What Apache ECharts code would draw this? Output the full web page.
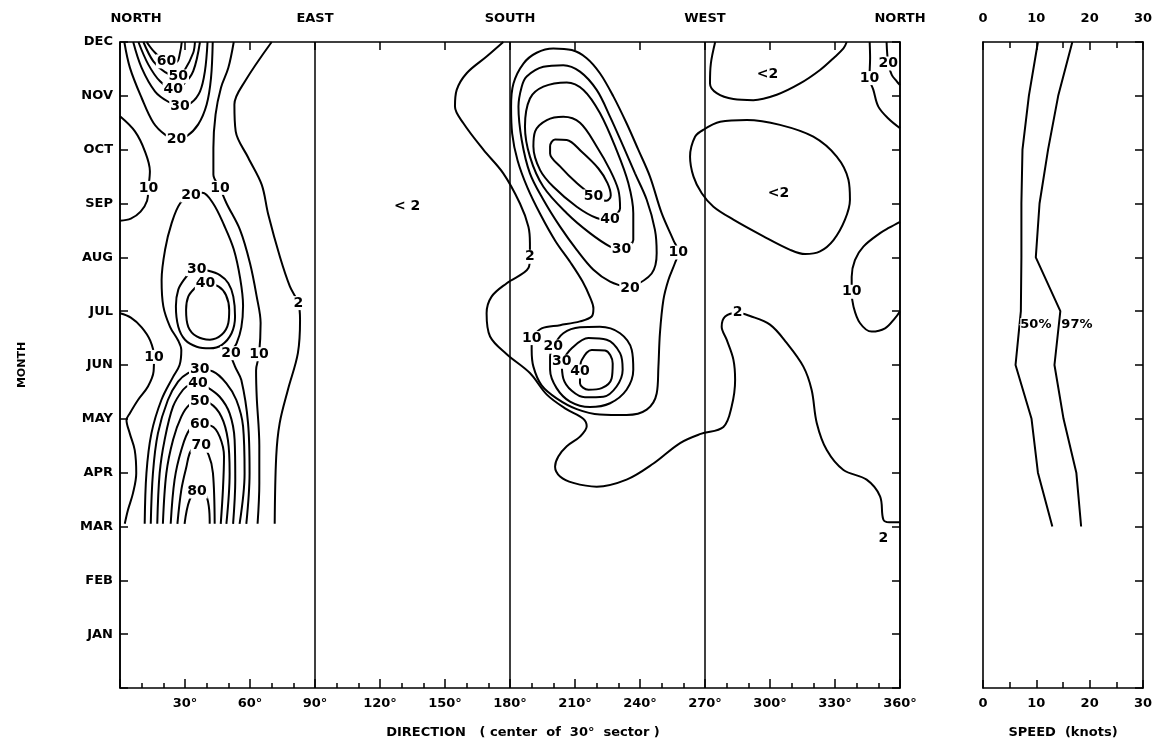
<!DOCTYPE html>
<html><head><meta charset="utf-8">
<script src="https://cdn.jsdelivr.net/npm/echarts@6/dist/echarts.min.js"></script>
<style>html,body{margin:0;padding:0;background:#fff}#c{width:1163px;height:745px}</style>
</head><body><div id="c"></div>
<script>
// ---------- tick labels ----------
const monthNames = ['JAN','FEB','MAR','APR','MAY','JUN','JUL','AUG','SEP','OCT','NOV','DEC'];
const dirValues = [0, 90, 180, 270, 360];
const dirNames = ['NORTH', 'EAST', 'SOUTH', 'WEST', 'NORTH'];
const directionTitle = 'DIRECTION   ( center  of  30°  sector )';
const speedTitle = 'SPEED  (knots)';
const monthTitle = 'MONTH';

// ---------- contour lines: [direction deg, month (1=JAN..12=DEC)] ----------
const c_top60 = [[12.3,12],[16.2,11.8],[21.5,11.64],[26.1,11.63],[27.7,11.8],[28.5,12]];
const c_top50 = [[10.8,12],[15.4,11.64],[20.8,11.44],[26.9,11.36],[30,11.49],[33.8,11.8],[34.6,12]];
const c_top40 = [[8.5,12],[13.1,11.58],[18.5,11.27],[24.6,11.12],[29.2,11.21],[33.8,11.46],[36.9,12]];
const c_top30 = [[6.1,12],[10,11.52],[16.2,11.08],[22.3,10.89],[27.7,10.81],[32.8,10.87],[36.9,11.08],[39.2,11.46],[40.4,12]];
const c_top20 = [[2,12],[4.6,11.52],[10,10.96],[15.4,10.5],[20.8,10.28],[26.1,10.19],[30.8,10.25],[36.1,10.47],[40,10.84],[42,11.33],[42.8,12]];
const c_nw10 = [[0,10.62],[6.9,10.34],[11.5,9.97],[13.8,9.6],[13.1,9.29],[12.5,9.05],[9.5,8.85],[5,8.72],[0,8.68]];
const c_ne10 = [[52.5,12],[50,11.52],[46.6,11.15],[44.1,10.65],[43.1,10.03],[43.1,9.54],[46.1,9.29],[49.2,9.0],[55.4,8.51],[60,7.89],[63.1,7.27],[64.9,6.78],[64.2,6.2],[62.8,5.9],[63.1,5.41],[64.3,4.5],[64.3,3.8],[63.5,3.05]];
const c_ne2 = [[70,12],[57.7,11.27],[52.8,10.84],[53.4,10.34],[59.2,9.85],[65.4,9.35],[68.4,8.8],[73.8,8.01],[78.4,7.46],[82.3,7.15],[83.1,6.84],[82.1,6.22],[77.5,5.54],[73.7,4.92],[72.1,4.3],[71.4,3.05]];
const c_sw10 = [[0,6.96],[5,6.88],[10,6.7],[14,6.45],[15.7,6.15],[15.5,5.88],[12.9,5.6],[8.3,5.35],[4.5,5.1],[3,4.98],[4.5,4.73],[6.8,4.42],[7.5,3.99],[6,3.62],[3.7,3.31],[2.2,3.05]];
const c_mid20 = [[11.4,3.05],[12.2,3.99],[14.5,4.73],[19.1,5.35],[24.5,5.78],[27.5,6.0],[28.3,6.28],[26.9,6.45],[23.1,6.71],[20,7.09],[19.2,7.58],[20.8,8.14],[23.8,8.63],[27.7,9.0],[32.8,9.15],[38,9.2],[43,9.0],[48,8.6],[52.5,8.15],[55.5,7.6],[56.8,7.1],[56,6.7],[53.8,6.4],[51.2,6.22],[53,5.98],[56,5.72],[59.1,4.92],[59.8,3.99],[58.3,3.05]];
const c_ell30 = [[35.4,7.78],[40.8,7.75],[46.1,7.67],[50,7.52],[52.3,7.27],[53.1,6.9],[51.5,6.59],[46.9,6.37],[41.5,6.31],[35.4,6.34],[30,6.47],[26.9,6.71],[25.8,7.09],[26.9,7.4],[30,7.61],[32.3,7.71],[35.4,7.78]];
const c_ell40 = [[40,7.52],[45.4,7.46],[48.9,7.3],[50.4,7.02],[50,6.78],[46.9,6.56],[41.5,6.47],[35.4,6.53],[31.5,6.71],[30.5,7.02],[31.5,7.27],[34.6,7.43],[36.9,7.49],[40,7.52]];
const c_low80 = [[29.8,3.05],[32.1,3.49],[35.5,3.65],[39.4,3.59],[41,3.37],[41.4,3.05]];
const c_low70 = [[26.5,3.05],[28.3,3.68],[30.6,4.1],[32.9,4.42],[37.5,4.5],[40.9,4.33],[42.9,3.99],[43.7,3.05]];
const c_low60 = [[23.4,3.05],[25.2,3.87],[28.3,4.42],[32.1,4.8],[36.8,4.89],[42.1,4.87],[46,4.67],[48,4.3],[47.5,3.68],[46.5,3.05]];
const c_low50 = [[19.8,3.05],[21.4,3.99],[24.5,4.61],[28.3,5.04],[32.1,5.26],[36.8,5.32],[41.4,5.29],[46.8,5.04],[49.8,4.61],[50.6,3.99],[49.1,3.05]];
const c_low40 = [[17.2,3.05],[18.3,3.99],[20.6,4.61],[24.5,5.23],[29.1,5.54],[32.1,5.63],[36,5.66],[39.8,5.6],[46,5.41],[50.6,5.1],[52.9,4.61],[53.2,3.87],[52.2,3.05]];
const c_low30 = [[14.2,3.05],[15.2,3.99],[17.5,4.73],[22.1,5.35],[26.8,5.69],[31.4,5.85],[36.8,5.91],[42.9,5.88],[49.1,5.66],[53.7,5.35],[56.8,4.86],[57.5,3.99],[55.2,3.05]];
const c_s2 = [[176.9,12],[169.2,11.73],[160,11.42],[155.4,11.11],[154.6,10.8],[158.5,10.49],[167.7,10.0],[176.9,9.56],[184.6,9.0],[188.5,8.57],[189.2,8.26],[189.2,8.01],[188.5,7.8],[178.5,7.52],[171.5,7.27],[169.2,6.96],[170.8,6.53],[178.5,6.2],[189.2,5.85],[197,5.45],[206,5.18],[213.8,5.0],[215.4,4.86],[212.3,4.67],[206.2,4.49],[202.3,4.3],[200.8,4.11],[203.1,3.93],[209.2,3.81],[220,3.74],[233.8,3.87],[246.2,4.17],[258.5,4.55],[268,4.72],[278.5,4.85],[282.3,5.23],[283.9,5.72],[283.1,6.1],[280,6.47],[277.7,6.71],[279.3,6.9],[285,6.97],[290.8,6.91],[300,6.75],[307.7,6.41],[315.4,5.97],[319.2,5.54],[321.6,4.92],[326.2,4.42],[333.9,4.05],[344.6,3.87],[350.8,3.56],[352.3,3.13],[355,3.08],[360,3.08]];
const c_s10 = [[190,6.5],[190,6.28],[190.8,5.97],[194.6,5.62],[201.5,5.38],[210.8,5.18],[221.5,5.08],[233.8,5.07],[243.1,5.17],[247.7,5.47],[248.5,5.97],[249.2,6.59],[250.8,7.21],[253.1,7.58],[256.1,7.89],[257.7,8.09],[255.4,8.32],[250,8.82],[244.6,9.5],[239.2,10.0],[233.8,10.49],[227.7,10.99],[221.5,11.42],[215.4,11.7],[208.5,11.85],[200,11.88],[192.3,11.8],[186.2,11.6],[181.6,11.23],[180.5,10.8],[181,10.3],[183.5,9.8],[188,9.3],[194,8.8],[201,8.3],[208,7.9],[213.5,7.55],[217,7.25],[218.5,7.05],[217.7,6.9],[212.3,6.81],[203.1,6.74],[194.6,6.68],[190,6.5]];
const c_s20 = [[235.4,7.43],[245.4,7.7],[247.7,8.08],[246.9,8.51],[243.1,9.07],[237.7,9.56],[232.3,10.06],[226.2,10.61],[220,11.11],[212.3,11.45],[204.6,11.57],[195.4,11.54],[187.7,11.36],[185.4,11.17],[183.9,10.8],[185.4,10.18],[189.2,9.56],[195.4,9.07],[203.1,8.57],[210.8,8.14],[218.5,7.77],[226.2,7.55],[235.4,7.43]];
const c_s30 = [[231.5,8.14],[236.9,8.32],[236.9,8.82],[234.6,9.38],[229.2,9.99],[221.5,10.68],[213.9,11.11],[206.2,11.25],[195.4,11.17],[189.2,10.95],[186.9,10.43],[189.2,9.87],[195.4,9.31],[206.2,8.82],[216.9,8.45],[226.2,8.2],[231.5,8.14]];
const c_s40 = [[226.2,8.7],[230.8,8.91],[230,9.25],[226.2,9.62],[220,10.06],[212.3,10.5],[204.6,10.61],[197,10.55],[191.6,10.34],[190.8,10.06],[193.9,9.62],[200,9.31],[210.8,8.94],[220,8.73],[226.2,8.7]];
const c_s50 = [[218.5,9.13],[224.5,9.05],[226.5,9.15],[225,9.38],[220.8,9.65],[213.1,9.96],[206.2,10.18],[200.8,10.19],[198.5,10.06],[198.5,9.93],[203.1,9.69],[210.8,9.38],[218.5,9.13]];
const c_sb20 = [[200,6.34],[204.6,6.59],[212.3,6.7],[221.5,6.71],[230.8,6.59],[236.2,6.28],[236.9,5.91],[233.8,5.54],[226.2,5.29],[216.9,5.22],[207.7,5.32],[201.5,5.57],[198.5,5.91],[198.5,6.16],[200,6.34]];
const c_sb30 = [[203.9,6.06],[208.5,6.31],[216.2,6.5],[224.6,6.47],[230.8,6.22],[232,5.91],[229.2,5.6],[223.1,5.41],[214.6,5.4],[208.5,5.52],[204.6,5.75],[203.9,6.06]];
const c_sb40 = [[212.3,5.88],[213.1,6.09],[217.7,6.28],[223.9,6.27],[227.4,6.03],[226.9,5.75],[222.3,5.57],[216.2,5.54],[212.3,5.66],[212.3,5.88]];
const c_wtop2 = [[274.7,12],[272.7,11.6],[272.3,11.23],[275.4,11.05],[283.1,10.94],[292.3,10.92],[303.1,11.02],[313.9,11.23],[323.1,11.48],[329.3,11.7],[333.9,11.88],[335.4,12]];
const c_wmid2 = [[269.3,10.37],[277,10.52],[289.3,10.55],[304.6,10.46],[320,10.24],[330.8,9.87],[336.2,9.44],[336.9,9.07],[334.6,8.7],[329.3,8.32],[323.1,8.11],[316.2,8.06],[309.3,8.14],[297,8.39],[283.1,8.7],[273.9,8.94],[268.5,9.19],[264.7,9.5],[263.1,9.87],[265.4,10.24],[269.3,10.37]];
const c_ntop10 = [[346,12],[346.2,11.7],[345.9,11.33],[347.7,11.11],[350,10.8],[354.6,10.58],[360,10.4]];
const c_ntop20 = [[353.8,12],[354.6,11.6],[356.2,11.39],[358.5,11.27],[360,11.2]];
const c_nlow10 = [[360,8.66],[355,8.55],[350.8,8.45],[343.1,8.2],[339.2,7.95],[337.7,7.64],[337.7,7.36],[338.5,7.09],[341.5,6.78],[346.9,6.62],[353.1,6.68],[357.7,6.87],[360,7.0]];

const contours = [c_top60,c_top50,c_top40,c_top30,c_top20,c_nw10,c_ne10,c_ne2,c_sw10,c_mid20,c_ell30,c_ell40,
  c_low80,c_low70,c_low60,c_low50,c_low40,c_low30,c_s2,c_s10,c_s20,c_s30,c_s40,c_s50,c_sb20,c_sb30,c_sb40,
  c_wtop2,c_wmid2,c_ntop10,c_ntop20,c_nlow10];

// ---------- contour value labels: [text, deg, month] ----------
const contourLabels = [
  ['60',21.5,11.64],['50',26.9,11.36],['40',24.6,11.12],['30',27.7,10.81],['20',26.1,10.19],
  ['10',13.1,9.29],['20',32.8,9.15],['10',46.1,9.29],['30',35.4,7.78],['40',39.5,7.52],['2',82.3,7.15],
  ['10',15.7,6.15],['20',51.2,6.22],['10',64.2,6.2],['30',36.8,5.91],['40',36,5.66],['50',36.8,5.32],
  ['60',36.8,4.89],['70',37.5,4.5],['80',35.5,3.65],
  ['2',189.2,8.01],['50',218.5,9.13],['40',226.2,8.7],['30',231.5,8.14],['20',235.4,7.43],['10',257.7,8.09],
  ['10',190,6.5],['20',200,6.34],['30',203.9,6.06],['40',212.3,5.88],['2',285,6.97],
  ['10',345.9,11.33],['20',354.6,11.6],['10',337.7,7.36],['2',352.3,2.78]
];
const areaLabels = [['< 2',132.5,8.94],['<2',298.8,11.39],['<2',303.9,9.19]];

// ---------- speed panel ----------
const speedMonths = [12,11,10,9,8,7,6,5,4,3];
const speed50 = [10.3,8.6,7.4,7.2,7.2,7.1,6.1,9.1,10.3,13.0];
const speed97 = [16.75,14.1,12.2,10.6,9.9,14.5,13.4,15.1,17.5,18.4];
const speedLabels = [['50%',6.9,6.75],['97%',14.6,6.75]];

// ---------- chart ----------
const F = "'DejaVu Sans', 'Liberation Sans', sans-serif";
const black = '#000';
const lineS = {color: black, width: 1.6};
const tickS = {color: black, width: 1.5};
const lblS = {color: black, fontFamily: F, fontWeight: 'bold', fontSize: 13};
const titleS = {color: black, fontFamily: F, fontWeight: 'bold', fontSize: 13};

const chart = echarts.init(document.getElementById('c'), null, {renderer: 'canvas'});

const contourSeries = contours.map(d => ({
  type: 'line', xAxisIndex: 0, yAxisIndex: 0, data: d, smooth: 0.35,
  symbol: 'none', showSymbol: false, silent: true, z: 2,
  lineStyle: {color: black, width: 2}
}));

function labelSeries(list, xi, yi, extra) {
  return {
    type: 'scatter', xAxisIndex: xi, yAxisIndex: yi, symbol: 'rect', symbolSize: 1, silent: true, z: 5,
    itemStyle: {color: '#fff', opacity: 1},
    data: list.map(l => ({name: l[0], value: [l[1], l[2]]})),
    label: Object.assign({show: true, position: 'inside', formatter: '{b}', color: '#000', opacity: 1,
      textBorderWidth: 0, fontFamily: F, fontWeight: 'bold', fontSize: 14}, extra || {})
  };
}

chart.setOption({
  animation: false,
  backgroundColor: '#fff',
  grid: [
    {left: 120, right: 263, top: 42, bottom: 57},
    {left: 983, right: 20, top: 42, bottom: 57}
  ],
  xAxis: [
    {gridIndex: 0, type: 'value', min: 0, max: 360, interval: 30, position: 'bottom',
     axisLine: {show: true, onZero: false, lineStyle: lineS},
     axisTick: {show: true, inside: true, length: 9, lineStyle: tickS},
     minorTick: {show: true, splitNumber: 3, length: 5, lineStyle: tickS},
     splitLine: {show: false},
     axisLabel: Object.assign({formatter: v => v === 0 ? '' : v + '°', margin: 9, showMinLabel: true, showMaxLabel: true}, lblS),
     name: directionTitle, nameLocation: 'middle', nameGap: 38,
     nameTextStyle: Object.assign({padding: [0, 0, 0, 26]}, titleS)},
    {gridIndex: 0, type: 'value', min: 0, max: 360, interval: 90, position: 'top',
     axisLine: {show: true, onZero: false, lineStyle: lineS},
     axisTick: {show: true, inside: true, length: 8, lineStyle: tickS},
     minorTick: {show: true, splitNumber: 3, length: 8, lineStyle: tickS},
     splitLine: {show: true, lineStyle: {color: black, width: 1.5}},
     axisLabel: Object.assign({
       formatter: v => { const i = dirValues.indexOf(v); if (i < 0) return ''; return i === 0 ? '{a|' + dirNames[i] + '}' : dirNames[i]; },
       margin: 17, showMinLabel: true, showMaxLabel: true,
       rich: {a: Object.assign({padding: [0, 0, 0, 32]}, lblS)}
     }, lblS)},
    {gridIndex: 1, type: 'value', min: 0, max: 30, interval: 10, position: 'bottom',
     axisLine: {show: true, onZero: false, lineStyle: lineS},
     axisTick: {show: true, inside: true, length: 8, lineStyle: tickS},
     minorTick: {show: true, splitNumber: 2, length: 6, lineStyle: tickS},
     splitLine: {show: false},
     axisLabel: Object.assign({margin: 9, showMinLabel: true, showMaxLabel: true}, lblS),
     name: speedTitle, nameLocation: 'middle', nameGap: 38, nameTextStyle: titleS},
    {gridIndex: 1, type: 'value', min: 0, max: 30, interval: 10, position: 'top',
     axisLine: {show: true, onZero: false, lineStyle: lineS},
     axisTick: {show: true, inside: true, length: 8, lineStyle: tickS},
     minorTick: {show: true, splitNumber: 2, length: 6, lineStyle: tickS},
     splitLine: {show: false},
     axisLabel: Object.assign({margin: 17, showMinLabel: true, showMaxLabel: true}, lblS)}
  ],
  yAxis: [
    {gridIndex: 0, type: 'value', min: 0, max: 12, interval: 1, position: 'left',
     axisLine: {show: true, onZero: false, lineStyle: lineS},
     axisTick: {show: true, inside: true, length: 8, lineStyle: tickS},
     splitLine: {show: false},
     axisLabel: Object.assign({formatter: v => v === 0 ? '' : monthNames[v - 1], margin: 7}, lblS),
     name: monthTitle, nameLocation: 'middle', nameRotate: 90, nameGap: 92,
     nameTextStyle: Object.assign({}, titleS, {fontSize: 11})},
    {gridIndex: 0, type: 'value', min: 0, max: 12, interval: 1, position: 'right',
     axisLine: {show: true, onZero: false, lineStyle: lineS},
     axisTick: {show: true, inside: true, length: 8, lineStyle: tickS},
     splitLine: {show: false}, axisLabel: {show: false}},
    {gridIndex: 1, type: 'value', min: 0, max: 12, interval: 1, position: 'left',
     axisLine: {show: true, onZero: false, lineStyle: lineS},
     axisTick: {show: false}, splitLine: {show: false}, axisLabel: {show: false}},
    {gridIndex: 1, type: 'value', min: 0, max: 12, interval: 1, position: 'right',
     axisLine: {show: true, onZero: false, lineStyle: lineS},
     axisTick: {show: true, inside: true, length: 8, lineStyle: tickS},
     splitLine: {show: false}, axisLabel: {show: false}}
  ],
  series: contourSeries.concat([
    labelSeries(contourLabels, 0, 0, {backgroundColor: '#fff', padding: [0, 1]}),
    labelSeries(areaLabels, 0, 0),
    {type: 'line', xAxisIndex: 2, yAxisIndex: 2, symbol: 'none', silent: true, z: 2,
     data: speedMonths.map((m, i) => [speed50[i], m]), lineStyle: {color: black, width: 2}},
    {type: 'line', xAxisIndex: 2, yAxisIndex: 2, symbol: 'none', silent: true, z: 2,
     data: speedMonths.map((m, i) => [speed97[i], m]), lineStyle: {color: black, width: 2}},
    labelSeries(speedLabels, 2, 2, {position: 'right', distance: 0, fontSize: 13, fontWeight: 'bold', backgroundColor: '#fff'})
  ])
});
</script></body></html>
